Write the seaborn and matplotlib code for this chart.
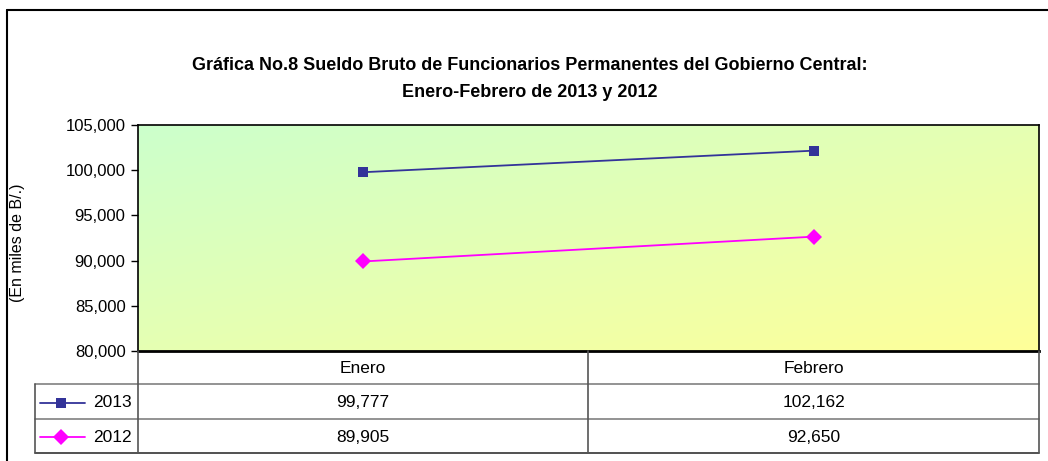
import matplotlib
matplotlib.use('Agg')
import matplotlib.pyplot as plt
import seaborn as sns
import numpy as np
import pandas as pd
from matplotlib.colors import LinearSegmentedColormap
from matplotlib.lines import Line2D

meses = ['Enero', 'Febrero']
serie_2013 = [99777, 102162]
serie_2012 = [89905, 92650]
años = ['2013', '2012']
y_ticks = [80000, 85000, 90000, 95000, 100000, 105000]

titulo = ('Gráfica No.8 Sueldo Bruto de Funcionarios Permanentes del Gobierno Central:\n'
          'Enero-Febrero de 2013 y 2012')
etiqueta_y = '(En miles de B/.)'

df = pd.DataFrame({'mes': meses * 2,
                   'valor': serie_2013 + serie_2012,
                   'año': [años[0]] * 2 + [años[1]] * 2})

sns.set_style('white')
plt.rcParams['font.family'] = ['Liberation Sans', 'DejaVu Sans']
plt.rcParams['text.color'] = 'black'
plt.rcParams['ytick.color'] = 'black'
plt.rcParams['ytick.labelcolor'] = 'black'

W, H = 1048, 461
fig = plt.figure(figsize=(W / 100, H / 100), dpi=100)

# plot area in pixel box
px_l, px_r, px_t, px_b = 138, 1039, 125, 351
ax = fig.add_axes([px_l / W, 1 - px_b / H, (px_r - px_l) / W, (px_b - px_t) / H])

# gradient background
grad_cmap = LinearSegmentedColormap.from_list('verde_amarillo', ['#ccffcc', '#ffff99'])
gx, gy = np.meshgrid(np.linspace(0, 1, 200), np.linspace(0, 1, 200))
ax.imshow(gx * 0.5 + gy * 0.5, cmap=grad_cmap, extent=[0, 1, 0, 1],
          transform=ax.transAxes, aspect='auto', zorder=0, origin='upper')

estilos = {'2013': dict(color='#333399', marker='s', markersize=7.5),
           '2012': dict(color='#ff00ff', marker='D', markersize=8)}
for año in años:
    sub = df[df['año'] == año]
    sns.lineplot(data=sub, x='mes', y='valor', ax=ax, color=estilos[año]['color'],
                 marker=estilos[año]['marker'], markersize=estilos[año]['markersize'],
                 markeredgewidth=0, linewidth=1.3, zorder=3)

ax.set_xlim(-0.5, 1.5)
ax.set_ylim(y_ticks[0], y_ticks[-1])
ax.set_yticks(y_ticks)
ax.set_yticklabels([f'{v:,}' for v in y_ticks], fontsize=12)
ax.set_xticks([])
ax.set_xlabel('')
ax.set_ylabel('')
ax.tick_params(axis='y', direction='out', length=5, width=1, left=True, pad=4,
               colors='black')
for side, sp in ax.spines.items():
    sp.set_visible(True)
    sp.set_color('black')
    sp.set_linewidth(1.2)
ax.spines['bottom'].set_linewidth(2)

# overlay for title, label, table and frame
ov = fig.add_axes([0, 0, 1, 1], zorder=5)
ov.set_xlim(0, W)
ov.set_ylim(H, 0)
ov.axis('off')
ov.patch.set_visible(False)

ov.text(530, 79, titulo, ha='center', va='center', fontsize=13,
        fontweight='bold', linespacing=1.7, color='black')
ov.text(18, 243, etiqueta_y, rotation=90, ha='center', va='center', fontsize=11.5,
        color='black')

# outer frame
ov.plot([7, W], [10, 10], color='black', lw=1.5)
ov.plot([7, 7], [10, H], color='black', lw=1.5)

# data table
tab_l, col_mid = 35, 588
fila_y = [351, 384, 419, 453]
gris = '#808080'
for y in fila_y[1:]:
    ov.plot([tab_l, px_r], [y, y], color=gris if y != fila_y[-1] else '#333333', lw=1.2)
for x in [px_l, col_mid, px_r]:
    ov.plot([x, x], [fila_y[0], fila_y[-1]], color='#555555', lw=1.2)
ov.plot([tab_l, tab_l], [fila_y[1], fila_y[-1]], color='#555555', lw=1.2)

centros_x = [(px_l + col_mid) / 2, (col_mid + px_r) / 2]
for cx, mes in zip(centros_x, meses):
    ov.text(cx, (fila_y[0] + fila_y[1]) / 2 + 1, mes, ha='center', va='center',
            fontsize=12.5, color='black')
for i, (año, serie) in enumerate([(años[0], serie_2013), (años[1], serie_2012)]):
    cy = (fila_y[i + 1] + fila_y[i + 2]) / 2 + 1
    for cx, v in zip(centros_x, serie):
        ov.text(cx, cy, f'{v:,}', ha='center', va='center', fontsize=12.5, color='black')
    ov.text(132, cy, año, ha='right', va='center', fontsize=12.5, color='black')
    st = estilos[año]
    ov.add_line(Line2D([40, 85], [cy, cy], color=st['color'], lw=1.3))
    ov.add_line(Line2D([61], [cy], color=st['color'], marker=st['marker'],
                       markersize=st['markersize'], markeredgewidth=0))

fig.savefig('out.png', dpi=100)
